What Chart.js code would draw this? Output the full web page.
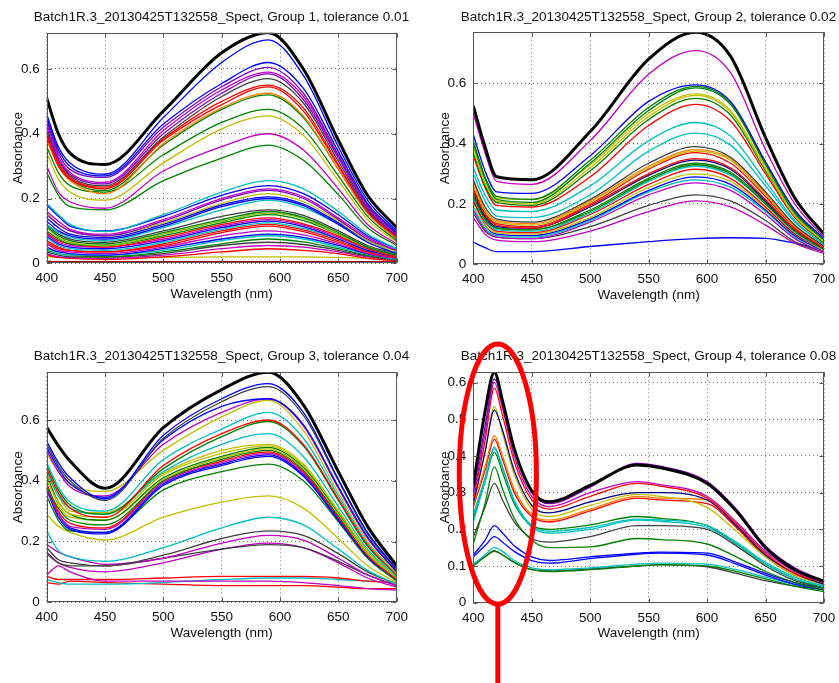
<!DOCTYPE html>
<html>
<head>
<meta charset="utf-8">
<title>Batch1R.3 spectra by group</title>
<script src="https://cdn.jsdelivr.net/npm/chart.js@4.4.1/dist/chart.umd.min.js"></script>
<style>
  body { margin: 0; background: #fff; }
  #wrap { position: relative; width: 839px; height: 683px; overflow: hidden; }
  canvas { position: absolute; }
</style>
</head>
<body>
<div id="wrap">
  <!-- each canvas is centred on its plot box so the full-width title sits over the axes -->
  <canvas id="group1" width="443" height="310" style="left:0;top:0"></canvas>
  <canvas id="group2" width="457" height="310" style="left:420px;top:0"></canvas>
  <canvas id="group3" width="443" height="310" style="left:0;top:340px"></canvas>
  <canvas id="group4" width="457" height="353" style="left:420px;top:330px"></canvas>
</div>
<script>
// wavelength grids (nm) the spectra are sampled on
const wavelengths = [400, 410, 420, 450, 500, 550, 590, 620, 650, 675, 700];
const wavelengthsG4 = [400, 410, 418, 425, 435, 450, 465, 500, 540, 560, 600, 625, 650, 675, 700];

const xTicks = [400, 450, 500, 550, 600, 650, 700];
const yTicksCoarse = [0, 0.2, 0.4, 0.6];
const yTicksFine = [0, 0.1, 0.2, 0.3, 0.4, 0.5, 0.6];

const titles = [
  "Batch1R.3_20130425T132558_Spect, Group 1, tolerance 0.01",
  "Batch1R.3_20130425T132558_Spect, Group 2, tolerance 0.02",
  "Batch1R.3_20130425T132558_Spect, Group 3, tolerance 0.04",
  "Batch1R.3_20130425T132558_Spect, Group 4, tolerance 0.08"
];
const yLimits = [0.712, 0.769, 0.757, 0.628];

// absorbance curves, one row per sample; first row is the group maximum
const group1 = [
  [0.51, 0.40, 0.34, 0.305, 0.47, 0.65, 0.712, 0.60, 0.38, 0.21, 0.11],
  [0.46, 0.36, 0.31, 0.275, 0.45, 0.62, 0.69, 0.58, 0.36, 0.195, 0.10],
  [0.45, 0.35, 0.30, 0.27, 0.43, 0.555, 0.62, 0.54, 0.345, 0.185, 0.095],
  [0.44, 0.34, 0.29, 0.265, 0.42, 0.545, 0.605, 0.525, 0.335, 0.18, 0.09],
  [0.43, 0.33, 0.28, 0.25, 0.41, 0.535, 0.59, 0.515, 0.33, 0.175, 0.09],
  [0.42, 0.32, 0.275, 0.245, 0.40, 0.525, 0.585, 0.505, 0.325, 0.17, 0.085],
  [0.41, 0.32, 0.27, 0.24, 0.39, 0.515, 0.57, 0.495, 0.315, 0.165, 0.085],
  [0.40, 0.31, 0.265, 0.235, 0.385, 0.50, 0.55, 0.48, 0.305, 0.16, 0.08],
  [0.39, 0.30, 0.26, 0.23, 0.38, 0.49, 0.545, 0.47, 0.30, 0.16, 0.08],
  [0.38, 0.30, 0.255, 0.215, 0.37, 0.48, 0.525, 0.455, 0.29, 0.155, 0.075],
  [0.40, 0.31, 0.26, 0.225, 0.365, 0.475, 0.52, 0.45, 0.29, 0.155, 0.075],
  [0.36, 0.28, 0.24, 0.22, 0.335, 0.435, 0.475, 0.415, 0.27, 0.145, 0.07],
  [0.34, 0.26, 0.22, 0.195, 0.31, 0.415, 0.455, 0.395, 0.255, 0.135, 0.065],
  [0.30, 0.22, 0.19, 0.17, 0.285, 0.36, 0.40, 0.35, 0.23, 0.12, 0.06],
  [0.28, 0.21, 0.175, 0.165, 0.255, 0.325, 0.365, 0.318, 0.212, 0.11, 0.055],
  [0.185, 0.15, 0.12, 0.098, 0.15, 0.22, 0.255, 0.23, 0.16, 0.09, 0.045],
  [0.18, 0.145, 0.115, 0.10, 0.145, 0.21, 0.24, 0.215, 0.15, 0.085, 0.045],
  [0.16, 0.13, 0.105, 0.09, 0.135, 0.20, 0.23, 0.205, 0.14, 0.08, 0.04],
  [0.15, 0.12, 0.10, 0.085, 0.13, 0.195, 0.225, 0.20, 0.135, 0.075, 0.04],
  [0.155, 0.12, 0.10, 0.085, 0.125, 0.185, 0.215, 0.19, 0.13, 0.07, 0.035],
  [0.14, 0.11, 0.09, 0.08, 0.12, 0.18, 0.205, 0.183, 0.125, 0.07, 0.035],
  [0.13, 0.10, 0.085, 0.075, 0.115, 0.175, 0.20, 0.178, 0.12, 0.065, 0.03],
  [0.12, 0.095, 0.08, 0.07, 0.11, 0.165, 0.195, 0.172, 0.12, 0.065, 0.03],
  [0.12, 0.09, 0.075, 0.065, 0.10, 0.145, 0.165, 0.148, 0.10, 0.055, 0.03],
  [0.115, 0.085, 0.07, 0.06, 0.095, 0.135, 0.16, 0.142, 0.095, 0.05, 0.025],
  [0.11, 0.08, 0.065, 0.055, 0.09, 0.13, 0.155, 0.138, 0.09, 0.05, 0.025],
  [0.10, 0.075, 0.06, 0.055, 0.085, 0.125, 0.15, 0.132, 0.09, 0.05, 0.025],
  [0.095, 0.07, 0.06, 0.05, 0.08, 0.12, 0.14, 0.122, 0.085, 0.045, 0.02],
  [0.09, 0.065, 0.055, 0.05, 0.075, 0.115, 0.135, 0.118, 0.08, 0.045, 0.02],
  [0.085, 0.06, 0.05, 0.045, 0.07, 0.11, 0.13, 0.113, 0.075, 0.04, 0.02],
  [0.08, 0.055, 0.045, 0.04, 0.065, 0.105, 0.125, 0.108, 0.075, 0.04, 0.02],
  [0.07, 0.05, 0.04, 0.035, 0.06, 0.10, 0.12, 0.103, 0.07, 0.035, 0.018],
  [0.065, 0.045, 0.04, 0.035, 0.055, 0.095, 0.115, 0.098, 0.065, 0.035, 0.018],
  [0.06, 0.04, 0.035, 0.03, 0.05, 0.085, 0.10, 0.088, 0.06, 0.03, 0.015],
  [0.05, 0.035, 0.03, 0.025, 0.045, 0.075, 0.09, 0.08, 0.055, 0.03, 0.015],
  [0.045, 0.03, 0.025, 0.025, 0.04, 0.07, 0.085, 0.075, 0.05, 0.028, 0.012],
  [0.04, 0.03, 0.025, 0.02, 0.035, 0.06, 0.075, 0.066, 0.045, 0.025, 0.012],
  [0.035, 0.025, 0.02, 0.02, 0.03, 0.055, 0.065, 0.058, 0.04, 0.022, 0.01],
  [0.03, 0.02, 0.018, 0.015, 0.025, 0.045, 0.055, 0.05, 0.035, 0.02, 0.01],
  [0.025, 0.018, 0.015, 0.012, 0.02, 0.035, 0.045, 0.04, 0.03, 0.015, 0.008],
  [0.02, 0.019, 0.018, 0.018, 0.018, 0.02, 0.02, 0.02, 0.018, 0.015, 0.01],
  [0.006, 0.005, 0.005, 0.005, 0.005, 0.005, 0.005, 0.005, 0.005, 0.005, 0.005],
  [0.003, 0.003, 0.003, 0.003, 0.003, 0.003, 0.003, 0.003, 0.003, 0.003, 0.003]
];
const group1Colors = ["k", "b", "b", "p", "m", "p", "K", "r", "r", "o", "g", "g", "y", "m", "g",
  "c", "b", "m", "p", "y", "b", "b", "c", "K", "g", "l", "g", "r", "m", "b", "c", "r", "r",
  "m", "b", "c", "g", "K", "m", "r", "y", "d", "p"];

const group2 = [
  [0.525, 0.39, 0.29, 0.28, 0.44, 0.68, 0.769, 0.69, 0.42, 0.22, 0.10],
  [0.50, 0.37, 0.275, 0.265, 0.41, 0.63, 0.708, 0.635, 0.38, 0.20, 0.09],
  [0.43, 0.31, 0.24, 0.235, 0.36, 0.54, 0.595, 0.54, 0.34, 0.18, 0.085],
  [0.41, 0.29, 0.225, 0.215, 0.345, 0.52, 0.59, 0.535, 0.335, 0.175, 0.08],
  [0.40, 0.285, 0.215, 0.205, 0.335, 0.51, 0.585, 0.53, 0.33, 0.17, 0.08],
  [0.39, 0.28, 0.22, 0.215, 0.33, 0.50, 0.565, 0.51, 0.32, 0.165, 0.075],
  [0.38, 0.27, 0.21, 0.20, 0.32, 0.49, 0.56, 0.505, 0.315, 0.16, 0.075],
  [0.37, 0.26, 0.205, 0.195, 0.31, 0.48, 0.55, 0.495, 0.31, 0.16, 0.07],
  [0.36, 0.255, 0.195, 0.19, 0.29, 0.46, 0.53, 0.475, 0.30, 0.155, 0.07],
  [0.32, 0.23, 0.18, 0.175, 0.26, 0.41, 0.47, 0.425, 0.275, 0.145, 0.065],
  [0.30, 0.21, 0.16, 0.155, 0.23, 0.375, 0.435, 0.395, 0.26, 0.14, 0.065],
  [0.28, 0.19, 0.15, 0.14, 0.215, 0.335, 0.39, 0.355, 0.24, 0.13, 0.06],
  [0.27, 0.18, 0.145, 0.135, 0.21, 0.325, 0.38, 0.35, 0.235, 0.125, 0.06],
  [0.26, 0.175, 0.14, 0.13, 0.205, 0.32, 0.375, 0.345, 0.23, 0.125, 0.06],
  [0.25, 0.17, 0.135, 0.125, 0.20, 0.315, 0.37, 0.335, 0.225, 0.12, 0.055],
  [0.245, 0.165, 0.13, 0.12, 0.195, 0.30, 0.35, 0.32, 0.215, 0.115, 0.055],
  [0.24, 0.16, 0.125, 0.12, 0.19, 0.295, 0.345, 0.315, 0.21, 0.115, 0.055],
  [0.23, 0.155, 0.12, 0.115, 0.18, 0.285, 0.335, 0.305, 0.205, 0.11, 0.05],
  [0.225, 0.15, 0.12, 0.115, 0.175, 0.28, 0.33, 0.30, 0.20, 0.11, 0.05],
  [0.22, 0.145, 0.115, 0.11, 0.17, 0.275, 0.325, 0.295, 0.20, 0.105, 0.05],
  [0.21, 0.14, 0.11, 0.105, 0.165, 0.265, 0.315, 0.285, 0.19, 0.10, 0.05],
  [0.20, 0.13, 0.105, 0.10, 0.155, 0.255, 0.30, 0.275, 0.185, 0.10, 0.045],
  [0.21, 0.13, 0.10, 0.095, 0.15, 0.245, 0.29, 0.265, 0.18, 0.095, 0.045],
  [0.19, 0.12, 0.095, 0.09, 0.145, 0.24, 0.28, 0.255, 0.175, 0.09, 0.045],
  [0.18, 0.115, 0.09, 0.085, 0.14, 0.23, 0.27, 0.245, 0.165, 0.085, 0.04],
  [0.17, 0.11, 0.09, 0.085, 0.125, 0.195, 0.23, 0.21, 0.145, 0.075, 0.04],
  [0.155, 0.10, 0.08, 0.075, 0.11, 0.175, 0.21, 0.19, 0.13, 0.07, 0.035],
  [0.073, 0.055, 0.042, 0.042, 0.059, 0.075, 0.085, 0.088, 0.086, 0.07, 0.048]
];
const group2Colors = ["k", "m", "b", "g", "g", "y", "y", "g", "r", "c", "c", "K", "o", "y",
  "r", "r", "n", "g", "g", "c", "r", "y", "b", "c", "m", "K", "m", "b"];

const group3 = [
  [0.576, 0.515, 0.465, 0.375, 0.575, 0.70, 0.757, 0.65, 0.43, 0.25, 0.12],
  [0.53, 0.46, 0.41, 0.34, 0.55, 0.67, 0.72, 0.625, 0.405, 0.23, 0.11],
  [0.52, 0.45, 0.40, 0.335, 0.54, 0.66, 0.71, 0.615, 0.40, 0.225, 0.105],
  [0.51, 0.44, 0.39, 0.345, 0.535, 0.645, 0.67, 0.585, 0.38, 0.215, 0.10],
  [0.50, 0.43, 0.38, 0.35, 0.52, 0.625, 0.67, 0.58, 0.375, 0.21, 0.10],
  [0.49, 0.43, 0.39, 0.365, 0.50, 0.61, 0.665, 0.565, 0.36, 0.20, 0.095],
  [0.46, 0.38, 0.33, 0.30, 0.47, 0.57, 0.625, 0.54, 0.35, 0.195, 0.095],
  [0.44, 0.36, 0.31, 0.28, 0.45, 0.555, 0.60, 0.52, 0.34, 0.19, 0.09],
  [0.45, 0.37, 0.32, 0.29, 0.44, 0.545, 0.595, 0.515, 0.335, 0.185, 0.09],
  [0.43, 0.35, 0.31, 0.29, 0.43, 0.52, 0.555, 0.48, 0.315, 0.175, 0.085],
  [0.42, 0.35, 0.30, 0.295, 0.425, 0.50, 0.52, 0.455, 0.30, 0.17, 0.085],
  [0.40, 0.33, 0.29, 0.28, 0.42, 0.49, 0.515, 0.45, 0.30, 0.165, 0.08],
  [0.42, 0.33, 0.29, 0.27, 0.41, 0.48, 0.51, 0.445, 0.295, 0.165, 0.08],
  [0.41, 0.32, 0.28, 0.27, 0.405, 0.475, 0.505, 0.44, 0.29, 0.16, 0.08],
  [0.38, 0.31, 0.27, 0.255, 0.40, 0.47, 0.50, 0.435, 0.285, 0.16, 0.08],
  [0.39, 0.30, 0.26, 0.245, 0.40, 0.465, 0.495, 0.43, 0.28, 0.155, 0.075],
  [0.37, 0.29, 0.25, 0.24, 0.395, 0.46, 0.49, 0.425, 0.28, 0.155, 0.075],
  [0.38, 0.29, 0.245, 0.23, 0.39, 0.455, 0.485, 0.42, 0.275, 0.15, 0.075],
  [0.37, 0.28, 0.24, 0.225, 0.385, 0.45, 0.48, 0.415, 0.27, 0.15, 0.075],
  [0.35, 0.27, 0.235, 0.23, 0.37, 0.43, 0.455, 0.40, 0.265, 0.145, 0.07],
  [0.29, 0.25, 0.23, 0.205, 0.28, 0.33, 0.35, 0.31, 0.21, 0.12, 0.065],
  [0.235, 0.17, 0.15, 0.135, 0.18, 0.245, 0.28, 0.255, 0.175, 0.105, 0.06],
  [0.18, 0.14, 0.13, 0.12, 0.155, 0.21, 0.235, 0.22, 0.16, 0.10, 0.06],
  [0.19, 0.165, 0.15, 0.125, 0.145, 0.195, 0.22, 0.205, 0.145, 0.09, 0.055],
  [0.16, 0.13, 0.12, 0.12, 0.145, 0.175, 0.19, 0.18, 0.135, 0.09, 0.055],
  [0.165, 0.13, 0.115, 0.10, 0.13, 0.175, 0.195, 0.18, 0.13, 0.08, 0.05],
  [0.09, 0.12, 0.10, 0.07, 0.07, 0.07, 0.07, 0.065, 0.055, 0.045, 0.04],
  [0.085, 0.075, 0.075, 0.075, 0.08, 0.085, 0.085, 0.085, 0.08, 0.07, 0.065],
  [0.075, 0.065, 0.06, 0.06, 0.065, 0.075, 0.08, 0.08, 0.075, 0.07, 0.065],
  [0.065, 0.06, 0.07, 0.065, 0.06, 0.055, 0.055, 0.055, 0.05, 0.045, 0.045]
];
const group3Colors = ["k", "b", "K", "b", "m", "y", "c", "r", "g", "c", "y", "y", "g", "y",
  "g", "r", "m", "b", "b", "g", "y", "c", "K", "m", "K", "m", "m", "r", "c", "r"];

const group4 = [
  [0.32, 0.52, 0.628, 0.55, 0.42, 0.305, 0.275, 0.32, 0.375, 0.368, 0.325, 0.25, 0.15, 0.09, 0.058],
  [0.30, 0.48, 0.61, 0.55, 0.42, 0.30, 0.27, 0.315, 0.38, 0.372, 0.33, 0.255, 0.155, 0.095, 0.06],
  [0.29, 0.46, 0.60, 0.53, 0.40, 0.29, 0.262, 0.30, 0.33, 0.322, 0.29, 0.22, 0.14, 0.085, 0.055],
  [0.28, 0.44, 0.585, 0.51, 0.385, 0.28, 0.255, 0.29, 0.325, 0.318, 0.285, 0.215, 0.135, 0.08, 0.055],
  [0.27, 0.41, 0.525, 0.47, 0.36, 0.265, 0.245, 0.275, 0.30, 0.30, 0.28, 0.21, 0.13, 0.08, 0.05],
  [0.27, 0.41, 0.535, 0.46, 0.35, 0.255, 0.235, 0.265, 0.295, 0.29, 0.26, 0.195, 0.125, 0.075, 0.05],
  [0.265, 0.37, 0.455, 0.40, 0.31, 0.24, 0.225, 0.255, 0.29, 0.285, 0.28, 0.21, 0.13, 0.075, 0.05],
  [0.26, 0.36, 0.445, 0.39, 0.30, 0.235, 0.22, 0.25, 0.285, 0.28, 0.27, 0.205, 0.125, 0.075, 0.05],
  [0.24, 0.34, 0.425, 0.37, 0.28, 0.21, 0.195, 0.205, 0.228, 0.226, 0.21, 0.165, 0.11, 0.07, 0.045],
  [0.22, 0.33, 0.42, 0.365, 0.275, 0.205, 0.19, 0.20, 0.225, 0.222, 0.205, 0.16, 0.105, 0.065, 0.045],
  [0.23, 0.33, 0.41, 0.355, 0.27, 0.21, 0.20, 0.212, 0.235, 0.23, 0.21, 0.16, 0.105, 0.065, 0.04],
  [0.16, 0.27, 0.37, 0.31, 0.23, 0.17, 0.15, 0.152, 0.175, 0.172, 0.16, 0.125, 0.085, 0.055, 0.035],
  [0.18, 0.26, 0.325, 0.28, 0.22, 0.175, 0.165, 0.18, 0.21, 0.21, 0.20, 0.155, 0.10, 0.06, 0.04],
  [0.13, 0.17, 0.21, 0.19, 0.155, 0.125, 0.115, 0.125, 0.135, 0.138, 0.135, 0.11, 0.08, 0.055, 0.04],
  [0.125, 0.155, 0.18, 0.165, 0.14, 0.115, 0.108, 0.12, 0.132, 0.135, 0.13, 0.105, 0.075, 0.05, 0.035],
  [0.105, 0.13, 0.15, 0.14, 0.115, 0.095, 0.09, 0.095, 0.105, 0.108, 0.105, 0.09, 0.07, 0.05, 0.04],
  [0.10, 0.125, 0.142, 0.13, 0.11, 0.09, 0.085, 0.09, 0.10, 0.103, 0.10, 0.085, 0.065, 0.045, 0.03],
  [0.105, 0.125, 0.14, 0.13, 0.11, 0.09, 0.087, 0.092, 0.10, 0.104, 0.098, 0.08, 0.06, 0.045, 0.035]
];
const group4Colors = ["k", "p", "m", "r", "n", "y", "o", "r", "c", "c", "g", "g", "K", "b", "b", "c", "g", "K"];

// region circled in red on the group 4 panel (nm, absorbance)
const circledNm = [388, 454];
const circledAbs = [-0.004, 0.705];

const palette = {
  k: "#000000", K: "#404040", b: "#0000ff", g: "#008000", r: "#ff0000",
  c: "#00bfbf", m: "#bf00bf", y: "#bfbf00", p: "#7f00bf", o: "#ff8000",
  l: "#80bf00", n: "#000080", d: "#a00000"
};

const FONT = "'Liberation Sans', Arial, Helvetica, sans-serif";
const FS = 13.5;
const HALF = FS * 0.6;
const TITLE_FS = 13.5;

// plot box of each panel, in canvas pixels
const boxes = [
  { w: 443, h: 310, left: 46.7, top: 32.7, right: 396.7, bottom: 263.3, titleY: 17.3 },
  { w: 457, h: 310, left: 53.3, top: 32.3, right: 404, bottom: 264.3, titleY: 17 },
  { w: 443, h: 310, left: 46.7, top: 32.3, right: 396.7, bottom: 262.3, titleY: 16.7 },
  { w: 457, h: 353, left: 53.3, top: 42.3, right: 404, bottom: 272.7, titleY: 26.7 }
];

// axes frame with short inward ticks on all four sides
const axesFrame = {
  id: "axesFrame",
  afterDatasetsDraw(chart) {
    const { ctx, chartArea: a, scales: { x, y } } = chart;
    const L = Math.round(a.left) + 0.5, R = Math.round(a.right) - 0.5;
    const T = Math.round(a.top) + 0.5, B = Math.round(a.bottom) - 0.5;
    ctx.save();
    ctx.strokeStyle = "#555";
    ctx.lineWidth = 1;
    ctx.beginPath();
    x.ticks.forEach(t => {
      const px = Math.round(x.getPixelForValue(t.value)) + 0.5;
      ctx.moveTo(px, B); ctx.lineTo(px, B - 4);
      ctx.moveTo(px, T); ctx.lineTo(px, T + 4);
    });
    y.ticks.forEach(t => {
      const py = Math.round(y.getPixelForValue(t.value)) + 0.5;
      ctx.moveTo(L, py); ctx.lineTo(L + 4, py);
      ctx.moveTo(R, py); ctx.lineTo(R - 4, py);
    });
    ctx.stroke();
    ctx.strokeRect(L, T, R - L, B - T);
    ctx.restore();
  }
};

const redCircle = {
  id: "redCircle",
  afterDraw(chart) {
    const { ctx, scales: { x, y } } = chart;
    const x0 = x.getPixelForValue(circledNm[0]), x1 = x.getPixelForValue(circledNm[1]);
    const y0 = y.getPixelForValue(circledAbs[1]), y1 = y.getPixelForValue(circledAbs[0]);
    const cx = (x0 + x1) / 2, cy = (y0 + y1) / 2;
    ctx.save();
    ctx.strokeStyle = "#ff0000";
    ctx.lineWidth = 5;
    ctx.beginPath();
    ctx.ellipse(cx, cy, (x1 - x0) / 2, (y1 - y0) / 2, 0, 0, Math.PI * 2);
    ctx.stroke();
    ctx.beginPath();
    ctx.moveTo(cx, y1);
    ctx.lineTo(cx, chart.height);
    ctx.stroke();
    ctx.restore();
  }
};

function drawGroup(id, n, xs, curves, colors, yTicks, extra) {
  const box = boxes[n];
  const datasets = curves.map((vals, i) => ({
    data: vals.map((v, j) => ({ x: xs[j], y: v })),
    borderColor: palette[colors[i]],
    borderWidth: colors[i] === "k" ? 3 : 1.3,
    pointRadius: 0,
    fill: false,
    cubicInterpolationMode: "monotone"
  }));
  const font = { family: FONT, size: FS, lineHeight: 1.2 };
  const grid = { color: "rgba(0,0,0,0.55)", lineWidth: 1, drawTicks: false };
  const border = { display: false, dash: [1, 3] };
  const titleHalf = TITLE_FS * 0.6;

  return new Chart(document.getElementById(id), {
    type: "line",
    data: { datasets },
    options: {
      responsive: false,
      animation: false,
      events: [],
      layout: { padding: 0 },
      plugins: {
        legend: { display: false },
        tooltip: { enabled: false },
        title: {
          display: true,
          text: titles[n],
          color: "#111",
          font: { family: FONT, size: TITLE_FS, weight: "normal", lineHeight: 1.2 },
          padding: { top: box.titleY - titleHalf, bottom: box.top - box.titleY - titleHalf }
        }
      },
      scales: {
        x: {
          type: "linear",
          min: 400,
          max: 700,
          afterBuildTicks: s => { s.ticks = xTicks.map(v => ({ value: v })); },
          afterFit: s => { s.height = box.h - box.bottom; },
          grid, border,
          ticks: { color: "#111", font, padding: 7, maxRotation: 0, autoSkip: false, callback: v => String(v) },
          title: {
            display: true, text: "Wavelength (nm)", color: "#111", font,
            padding: { top: 0, bottom: box.h - box.bottom - 30.5 - HALF }
          }
        },
        y: {
          min: 0,
          max: yLimits[n],
          afterBuildTicks: s => { s.ticks = yTicks.map(v => ({ value: v })); },
          afterFit: s => { s.width = box.left; },
          grid, border,
          ticks: { color: "#111", font, padding: 7, autoSkip: false, callback: v => String(v) },
          title: {
            display: true, text: "Absorbance", color: "#111", font,
            padding: { top: box.left - 28.5 - HALF, bottom: 0 }
          }
        },
        // empty right-hand axis that reserves the margin beside the plot box
        margin: {
          position: "right",
          display: true,
          afterFit: s => { s.width = box.w - box.right; },
          grid: { display: false, drawOnChartArea: false, drawTicks: false },
          border: { display: false },
          ticks: { display: false }
        }
      }
    },
    plugins: extra ? [axesFrame, extra] : [axesFrame]
  });
}

drawGroup("group1", 0, wavelengths, group1, group1Colors, yTicksCoarse);
drawGroup("group2", 1, wavelengths, group2, group2Colors, yTicksCoarse);
drawGroup("group3", 2, wavelengths, group3, group3Colors, yTicksCoarse);
drawGroup("group4", 3, wavelengthsG4, group4, group4Colors, yTicksFine, redCircle);
</script>
</body>
</html>
